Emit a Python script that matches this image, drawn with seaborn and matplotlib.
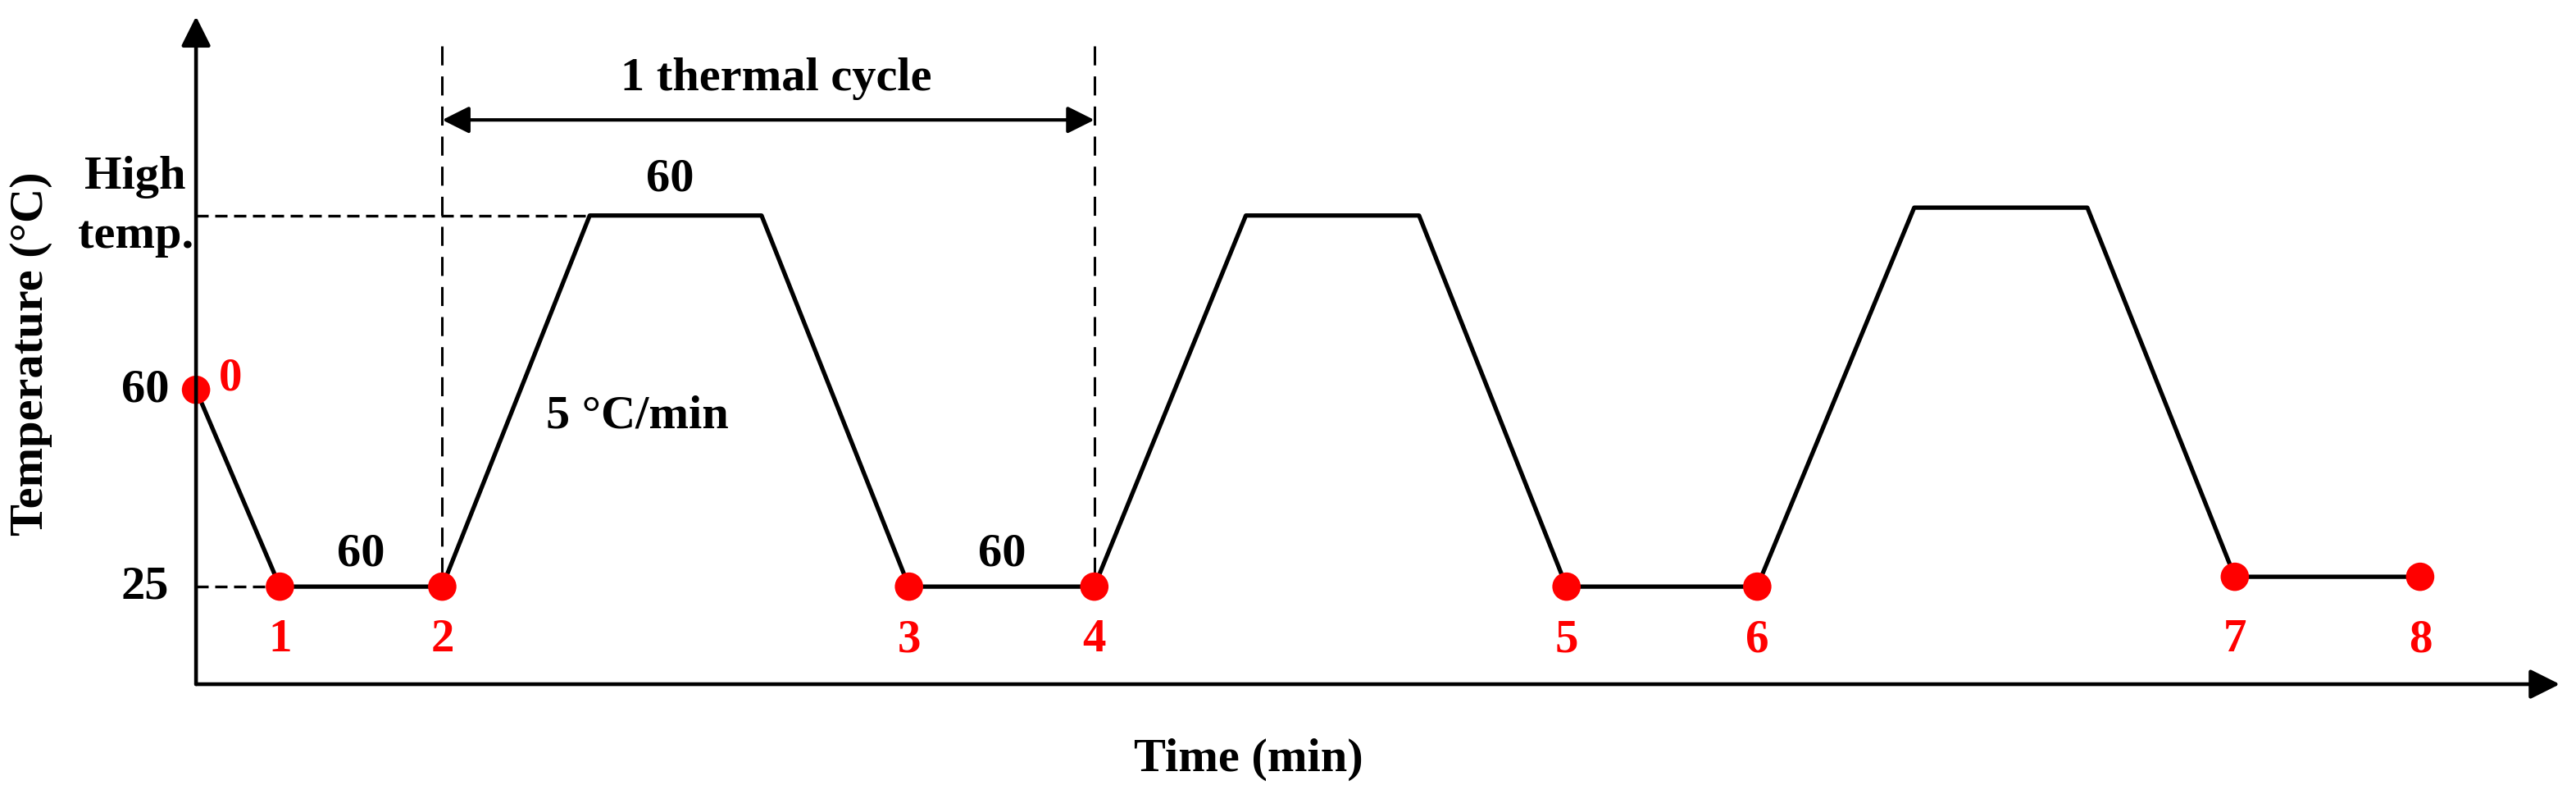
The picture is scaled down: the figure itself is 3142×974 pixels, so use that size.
import pandas as pd
import matplotlib
matplotlib.use("Agg")
import matplotlib.pyplot as plt
import seaborn as sns

sns.set_style("white")
plt.rcParams["font.family"] = ["Liberation Serif", "DejaVu Serif"]
plt.rcParams["font.weight"] = "bold"
plt.rcParams["text.color"] = "black"

# 温度曲线 (示意图, 单位: min / °C)
time = [0, 31, 91, 145.5, 209, 263.5, 332, 388, 452, 506.5, 577, 635, 699, 753.5, 822]
temp = [60, 25, 25, 91, 91, 25, 25, 91, 91, 25, 25, 92.4, 92.4, 26.75, 26.75]
point_idx = [0, 1, 2, 5, 6, 9, 10, 13, 14]
point_labels = ["0", "1", "2", "3", "4", "5", "6", "7", "8"]
ytick_vals = [25, 60]
high_temp = 91
dwell_label = "60"

df = pd.DataFrame({"time": time, "temp": temp})
pts = df.iloc[point_idx].reset_index(drop=True)
pts["label"] = point_labels

fig = plt.figure(figsize=(31.42, 9.74), dpi=100)
ax = fig.add_axes([0.0761, 0.1437, 0.9176, 0.8357])
xmax, ymin, ymax = 873.6, 7.65, 126.4
ax.set_xlim(0, xmax)
ax.set_ylim(ymin, ymax)

# 辅助虚线
ax.plot([0, time[3]], [high_temp, high_temp], color="k", lw=2.4,
        ls=(0, (4.5, 2.4)), zorder=1)
ax.plot([0, time[1]], [25, 25], color="k", lw=2.4, ls=(0, (4.5, 2.4)), zorder=1)
for t in [time[2], time[6]]:
    ax.plot([t, t], [121.1, 25], color="k", lw=2.2, ls=(0, (7.6, 4.4)), zorder=1)

# 曲线和点
sns.lineplot(data=df, x="time", y="temp", ax=ax, color="k", lw=3.8,
             estimator=None, sort=False, zorder=2)
sns.scatterplot(data=pts, x="time", y="temp", ax=ax, color="red", s=620,
                edgecolor="none", zorder=3, clip_on=False)
ax.set_xlabel("")
ax.set_ylabel("")

# 坐标轴箭头
for sp in ax.spines.values():
    sp.set_visible(False)
arrow = dict(arrowstyle="-|>,head_length=1.1,head_width=0.55", lw=3.3,
             color="k", mutation_scale=20, shrinkA=0, shrinkB=0)
ax.annotate("", xy=(xmax, ymin), xytext=(0, ymin), arrowprops=arrow,
            annotation_clip=False)
ax.annotate("", xy=(0, ymax), xytext=(0, ymin), arrowprops=arrow,
            annotation_clip=False)

# 1 thermal cycle 双箭头
arrow2 = dict(arrowstyle="<|-|>,head_length=1.0,head_width=0.5", lw=3.0,
              color="k", mutation_scale=20, shrinkA=0, shrinkB=0)
ax.annotate("", xy=(time[6], 108.0), xytext=(time[2], 108.0), arrowprops=arrow2)
ax.text((time[2] + time[6]) / 2 + 3, 115.3, "1 thermal cycle", ha="center",
        va="center", fontsize=42, fontweight="bold")

# 刻度
ax.set_xticks([])
ax.set_yticks([])
for v in ytick_vals:
    ax.text(-10, v, str(v), ha="right", va="center", fontsize=42,
            fontweight="bold")
ax.text(-22.4, 95.7, "High", ha="center", va="baseline", fontsize=42,
        fontweight="bold")
ax.text(-22.4, 85.2, "temp.", ha="center", va="baseline", fontsize=42,
        fontweight="bold")

# 点的编号
for i, row in pts.iterrows():
    if i == 0:
        ax.text(row.time + 12.7, 62.0, row.label, color="red", ha="center",
                va="center", fontsize=41, fontweight="bold")
    else:
        ax.text(row.time, 15.5, row.label, color="red", ha="center",
                va="center", fontsize=41, fontweight="bold")

# 保温时间 / 升温速率
ax.text((time[1] + time[2]) / 2, 30.8, dwell_label, ha="center", va="center",
        fontsize=42, fontweight="bold")
ax.text((time[5] + time[6]) / 2, 30.8, dwell_label, ha="center", va="center",
        fontsize=42, fontweight="bold")
ax.text((time[3] + time[4]) / 2 - 2, 97.5, dwell_label, ha="center", va="center",
        fontsize=42, fontweight="bold")
ax.text(163, 55.3, "5 °C/min", ha="center", va="center", fontsize=42,
        fontweight="bold")

fig.text(1523 / 3142, 1 - 926 / 974, "Time (min)", ha="center", va="center",
         fontsize=42, fontweight="bold")
fig.text(38 / 3142, 1 - 431 / 974, "Temperature (°C)", ha="center",
         va="center", rotation=90, fontsize=42, fontweight="bold")

fig.savefig("out.png", dpi=100)
